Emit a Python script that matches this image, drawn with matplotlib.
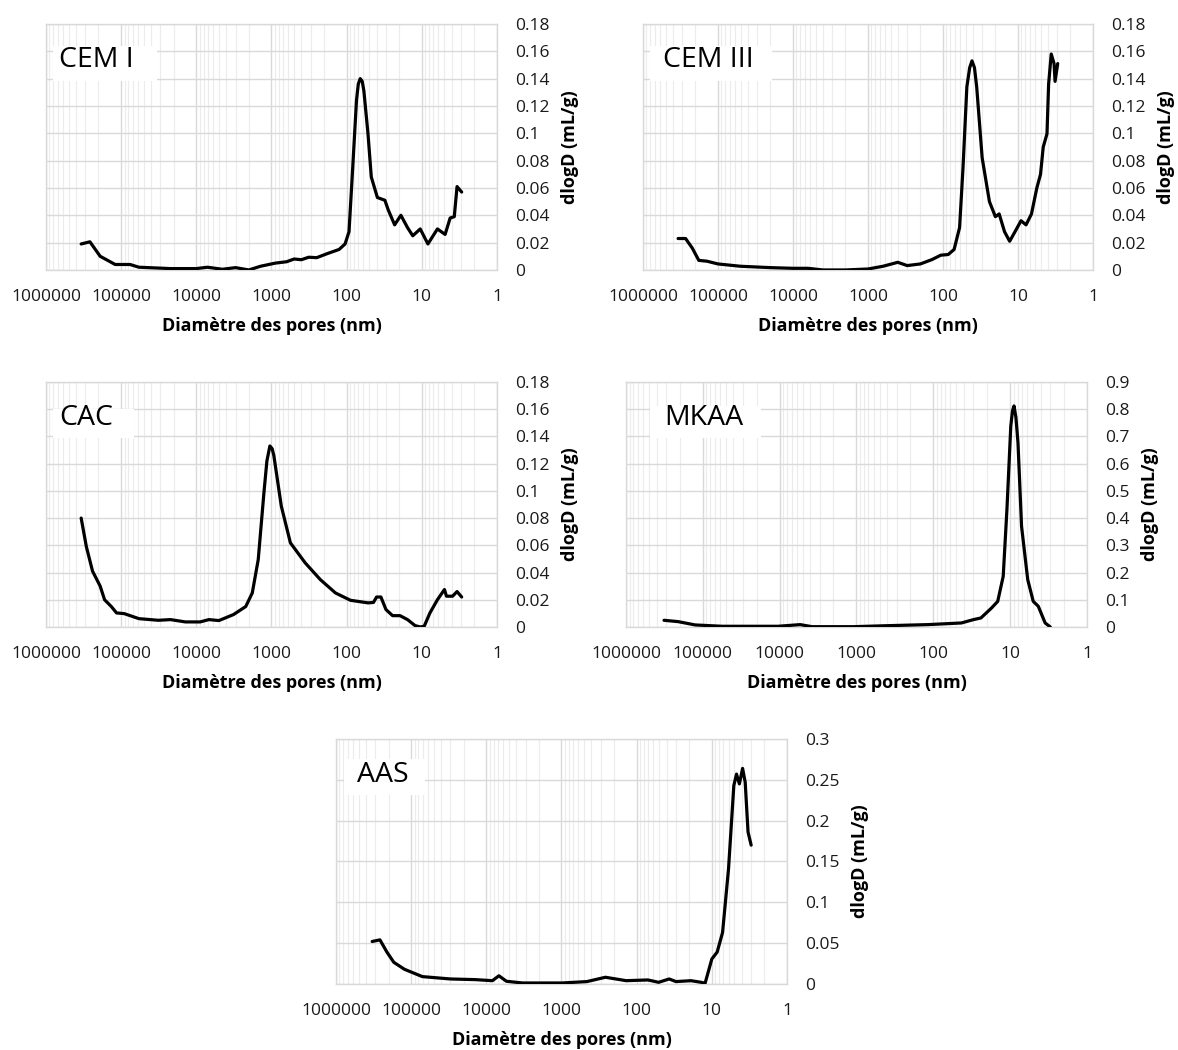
import numpy as np
import matplotlib
matplotlib.use("Agg")
from matplotlib import pyplot as plt
from matplotlib.patches import Rectangle
from matplotlib.ticker import FixedLocator, FuncFormatter, NullFormatter

plt.rcParams['font.family'] = ['Open Sans', 'DejaVu Sans']

# Pore diameter (nm) and dlogD (mL/g)
cem1_d = [340000, 260000, 190000, 120000, 76000, 58000, 22000, 10000, 7100, 4500,
          3000, 2000, 1400, 890, 630, 500, 400, 320, 250, 180,
          126, 105, 93, 83, 74, 70, 66, 62, 59, 52, 47, 39,
          31, 28, 23, 19, 15.5, 13.2, 10.5, 8.3, 6.2, 4.9,
          4.2, 3.7, 3.4, 2.95]
cem1_v = [0.019, 0.0206, 0.010, 0.004, 0.004, 0.002, 0.001, 0.001, 0.002, 0.0005,
          0.0017, 0.0, 0.0027, 0.005, 0.006, 0.008, 0.0075, 0.0093, 0.009, 0.012,
          0.015, 0.019, 0.028, 0.075, 0.124, 0.136, 0.140, 0.138, 0.131, 0.0996, 0.068, 0.053,
          0.051, 0.044, 0.033, 0.040, 0.031, 0.025, 0.030, 0.019, 0.030, 0.026,
          0.038, 0.039, 0.061, 0.057]

cem3_d = [340000, 270000, 220000, 180000, 140000, 100000, 50000, 20000, 10000, 6300,
          4000, 2000, 1000, 630, 400, 300, 200, 140, 107, 85,
          71, 60, 54, 48, 44, 41, 38, 35.5, 30, 24, 20, 17.8,
          15.1, 12.9, 11.2, 9.1, 7.8, 6.6, 5.6, 5.0, 4.6, 4.1,
          3.9, 3.6, 3.3, 3.2, 2.95]
cem3_v = [0.023, 0.023, 0.016, 0.007, 0.0064, 0.0044, 0.0027, 0.0017, 0.0012, 0.0012,
          0.0, 0.0, 0.0007, 0.0027, 0.0056, 0.0032, 0.0044, 0.0076, 0.0108, 0.0113,
          0.015, 0.031, 0.075, 0.134, 0.148, 0.153, 0.148, 0.134, 0.082, 0.050, 0.039, 0.041,
          0.028, 0.021, 0.027, 0.036, 0.033, 0.041, 0.060, 0.070, 0.090, 0.0996,
          0.136, 0.158, 0.151, 0.138, 0.151]

cac_d = [340000, 290000, 240000, 190000, 166000, 135000, 115000, 91000, 58000, 32000,
         22000, 14000, 8900, 6800, 5000, 3200, 2200, 1800, 1500, 1260,
         1150, 1050, 980, 930, 740, 560, 355, 224, 141, 89, 52, 44,
         40, 35, 30, 24.5, 19.5, 15.5, 12.3, 10.5, 9.3, 7.8,
         6.2, 5.0, 4.7, 3.9, 3.4, 2.95]
cac_v = [0.080, 0.059, 0.041, 0.030, 0.020, 0.015, 0.0103, 0.0098, 0.0061, 0.0049,
         0.0054, 0.0037, 0.0037, 0.0054, 0.0047, 0.0091, 0.015, 0.025, 0.0495, 0.0986,
         0.122, 0.133, 0.131, 0.126, 0.0888, 0.0618, 0.047, 0.0348, 0.025, 0.0196, 0.0177, 0.018,
         0.022, 0.022, 0.0128, 0.0083, 0.0083, 0.0054, 0.001, 0.0, 0.0005, 0.0103,
         0.020, 0.0275, 0.0226, 0.0226, 0.026, 0.022]

mkaa_d = [320000, 210000, 126000, 56000, 10500, 5400, 3800, 1100, 360, 117,
          43, 30, 24, 17.4, 14.5, 12.3, 11, 9.8, 9.3, 8.9, 8.4, 7.9,
          7.1, 5.9, 5.0, 4.3, 3.5, 3.0]
mkaa_v = [0.0245, 0.0196, 0.0074, 0.0025, 0.0025, 0.0086, 0.001, 0.001, 0.005, 0.0086,
          0.0147, 0.027, 0.033, 0.070, 0.094, 0.186, 0.432, 0.738, 0.795, 0.812, 0.77, 0.677,
          0.370, 0.174, 0.094, 0.076, 0.0147, 0.0]

aas_d = [330000, 260000, 210000, 170000, 123000, 71000, 30000, 14000, 8300, 6800,
         5400, 3300, 980, 460, 260, 138, 71, 51, 37, 30,
         19, 13.8, 12.3, 10, 8.5, 7.2, 6.0, 5.1, 4.7, 4.3,
         3.9, 3.6, 3.3, 3.0]
aas_v = [0.052, 0.054, 0.039, 0.0265, 0.018, 0.009, 0.0061, 0.0053, 0.004, 0.010,
         0.0033, 0.0012, 0.0012, 0.0029, 0.0082, 0.004, 0.0049, 0.002, 0.0061, 0.0029,
         0.004, 0.002, 0.0008, 0.0306, 0.039, 0.063, 0.141, 0.243, 0.257, 0.245,
         0.264, 0.247, 0.186, 0.170]

x_ticks = [1000000, 100000, 10000, 1000, 100, 10, 1]
y_ticks_018 = [0, 0.02, 0.04, 0.06, 0.08, 0.1, 0.12, 0.14, 0.16, 0.18]
y_ticks_09 = [0, 0.1, 0.2, 0.3, 0.4, 0.5, 0.6, 0.7, 0.8, 0.9]
y_ticks_03 = [0, 0.05, 0.1, 0.15, 0.2, 0.25, 0.3]

# name, x, y, yticks, axes rect, label box, label x
panels = [
    ("CEM I", cem1_d, cem1_v, y_ticks_018, [0.0390, 0.7429, 0.3829, 0.2343], (0.016, 0.77, 0.23, 0.14), 0.029),
    ("CEM III", cem3_d, cem3_v, y_ticks_018, [0.5458, 0.7429, 0.3820, 0.2343], (0.016, 0.77, 0.27, 0.14), 0.044),
    ("CAC", cac_d, cac_v, y_ticks_018, [0.0390, 0.4029, 0.3829, 0.2333], (0.016, 0.77, 0.18, 0.12), 0.029),
    ("MKAA", mkaa_d, mkaa_v, y_ticks_09, [0.5314, 0.4029, 0.3913, 0.2333], (0.052, 0.77, 0.24, 0.13), 0.082),
    ("AAS", aas_d, aas_v, y_ticks_03, [0.2852, 0.0629, 0.3829, 0.2333], (0.018, 0.77, 0.18, 0.15), 0.047),
]

fig = plt.figure(figsize=(11.78, 10.5), dpi=100)

for name, xd, yd, yt, rect, box, tx in panels:
    ax = fig.add_axes(rect)
    ax.plot(xd, yd, color='black', linewidth=2.3, solid_joinstyle='round',
            solid_capstyle='round', zorder=3)
    ax.set_xscale('log')
    ax.set_xlim(1000000, 1)
    ax.set_ylim(yt[0], yt[-1])

    ax.xaxis.set_major_locator(FixedLocator(x_ticks))
    ax.xaxis.set_major_formatter(FuncFormatter(lambda v, p: '%d' % round(v)))
    minors = [m * 10 ** e for e in range(0, 6) for m in range(2, 10)]
    ax.xaxis.set_minor_locator(FixedLocator(minors))
    ax.xaxis.set_minor_formatter(NullFormatter())
    ax.yaxis.set_major_locator(FixedLocator(yt))
    ax.yaxis.set_major_formatter(FuncFormatter(lambda v, p: '%g' % round(v, 3)))

    ax.yaxis.tick_right()
    ax.yaxis.set_label_position('right')
    ax.tick_params(axis='both', which='both', length=0, labelsize=12.5, colors='#1a1a1a')
    ax.tick_params(axis='x', pad=14)
    ax.tick_params(axis='y', pad=13)

    ax.grid(True, which='major', color='#d9d9d9', linewidth=1.0, zorder=0)
    ax.grid(True, which='minor', axis='x', color='#ececec', linewidth=0.8, zorder=0)
    for s in ax.spines.values():
        s.set_color('#d9d9d9')
        s.set_linewidth(1.0)

    ax.set_xlabel('Diamètre des pores (nm)', fontsize=13, fontweight='bold', labelpad=8)
    ax.set_ylabel('dlogD (mL/g)', fontsize=13, fontweight='bold', labelpad=8)

    ax.add_patch(Rectangle((box[0], box[1]), box[2], box[3], transform=ax.transAxes,
                           facecolor='white', edgecolor='none', zorder=2, clip_on=False))
    ax.text(tx, 0.855, name, transform=ax.transAxes, fontsize=20.5,
            va='center', ha='left', color='black', zorder=4)

fig.savefig('out.png', dpi=100)
